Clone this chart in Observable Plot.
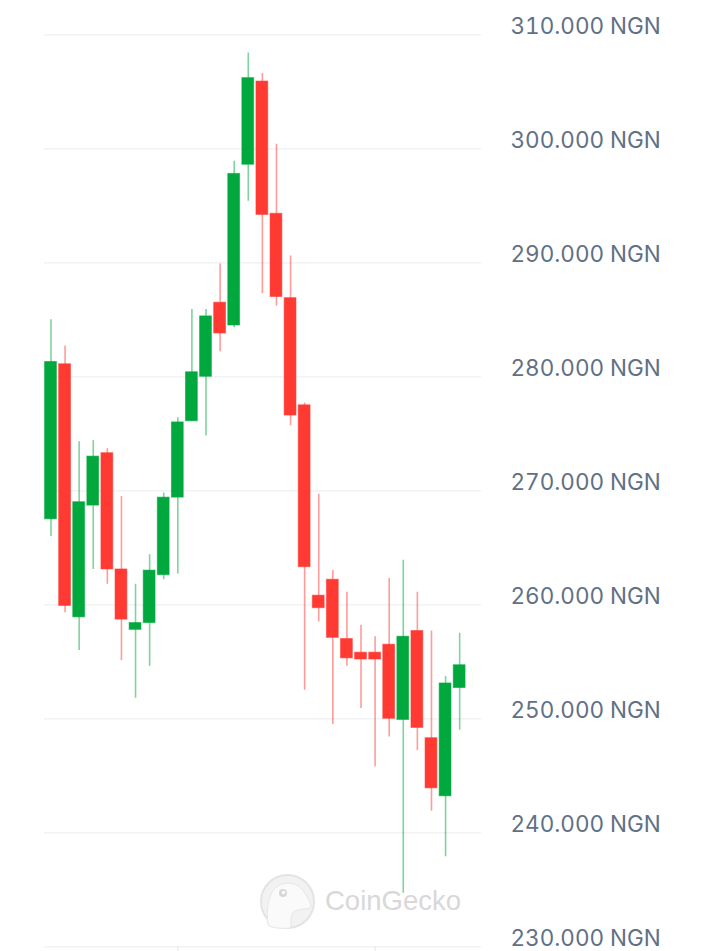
<!DOCTYPE html>
<html>
<head>
<meta charset="utf-8">
<script src="https://cdn.jsdelivr.net/npm/d3@7"></script>
<script src="https://cdn.jsdelivr.net/npm/@observablehq/plot@0.6"></script>
<style>
  html, body { margin: 0; padding: 0; background: #ffffff; }
  #chart svg { display: block; overflow: visible; }
</style>
</head>
<body>
<div id="chart"></div>
<script>
// Candle index (0 = oldest)
const candleIndex = d3.range(30);
const openValues  = [267500,281100,258900,268700,273300,263100,257800,258400,262600,269400,276100,280000,286500,284500,298600,305900,294300,286900,277500,260800,262200,257000,255800,255800,256500,249900,257700,248300,243200,252700];
const highValues  = [285000,282700,274300,274400,273700,269500,261800,264400,269800,276400,285900,285900,289900,298900,308400,306600,300400,290600,277700,269700,263000,261100,258200,257200,262300,263900,261100,257700,253700,257500];
const lowValues   = [266000,259300,256000,263100,261800,255100,251800,254600,262200,262700,276100,274800,282200,284300,295400,287300,286200,275700,252500,258500,249500,254600,250900,245800,248400,234700,247200,241900,237900,249000];
const closeValues = [281300,259900,269000,273000,263100,258700,258400,263000,269400,276000,280400,285300,283800,297800,306200,294200,287000,276600,263300,259700,257100,255300,255200,255200,250000,257200,249200,243900,253100,254700];

const yTickValues = [230000,240000,250000,260000,270000,280000,290000,300000,310000];
const xTickValues = [9, 23];

const GREEN = "#00a83e";
const RED = "#ff3a33";

const candles = candleIndex.map(i => ({
  i,
  open: openValues[i],
  high: highValues[i],
  low: lowValues[i],
  close: closeValues[i],
  up: closeValues[i] >= openValues[i]
}));

const fmt = d => d3.format(",")(d).replace(/,/g, ".") + " NGN";

const chart = Plot.plot({
  width: 720,
  height: 951,
  marginTop: 34.3,
  marginBottom: 4.7,
  marginLeft: 44,
  marginRight: 239,
  style: { background: "#ffffff", overflow: "visible" },
  x: { type: "linear", domain: [-0.46, 30.55], axis: null, label: null },
  y: { domain: [230000, 310000], axis: null, label: null },
  marks: [
    Plot.gridY(yTickValues, { stroke: "#edf0f3", strokeOpacity: 1, strokeWidth: 1.2 }),
    Plot.axisX(xTickValues, { anchor: "bottom", tickSize: 8, tickFormat: () => "", label: null, stroke: "#e6e9ed", strokeWidth: 1.2 }),
    Plot.axisY(yTickValues, {
      anchor: "right",
      tickSize: 0,
      tickPadding: 29,
      textAnchor: "start",
      lineAnchor: "bottom",
      dy: -1,
      label: null,
      tickFormat: fmt,
      fontSize: 22.5,
      fontFamily: "Inter, 'Noto Sans', sans-serif",
      fill: "#617085"
    }),
    Plot.ruleX(candles, {
      x: "i", y1: "low", y2: "high",
      stroke: d => d.up ? GREEN : RED,
      strokeOpacity: 0.5,
      strokeWidth: 1.6
    }),
    Plot.rectY(candles, {
      x1: d => d.i - 0.42,
      x2: d => d.i + 0.42,
      y1: "open",
      y2: "close",
      fill: d => d.up ? GREEN : RED,
      stroke: d => d.up ? GREEN : RED,
      strokeOpacity: 0.55,
      strokeWidth: 1
    })
  ]
});

// CoinGecko watermark, placed behind the candles
const svg = d3.select(chart);
const wm = svg.insert("g", ":first-child").attr("pointer-events", "none").attr("text-anchor", "start");
wm.append("circle").attr("cx", 287.5).attr("cy", 901.5).attr("r", 26.5)
  .attr("fill", "#f2f2f2").attr("stroke", "#e4e4e4").attr("stroke-width", 2);
wm.append("path")
  .attr("d", "M268,925 C266,910 268,892 278,886 C288,880 300,884 304,892 C308,898 312,904 310,908 C304,910 296,908 292,914 C290,920 292,926 290,928 C282,929 272,928 268,925 Z")
  .attr("fill", "#fafafa").attr("stroke", "#e6e6e6").attr("stroke-width", 1);
wm.append("circle").attr("cx", 283).attr("cy", 893).attr("r", 4).attr("fill", "#d6d6d6");
wm.append("circle").attr("cx", 283.5).attr("cy", 892.5).attr("r", 1.8).attr("fill", "#ffffff");
wm.append("text").attr("x", 325).attr("y", 909.5)
  .attr("text-anchor", "start")
  .attr("font-family", "'Liberation Sans', Arial, sans-serif")
  .attr("font-size", 27.5)
  .attr("fill", "#d8d8d8")
  .text("CoinGecko");

document.getElementById("chart").appendChild(chart);
</script>
</body>
</html>
